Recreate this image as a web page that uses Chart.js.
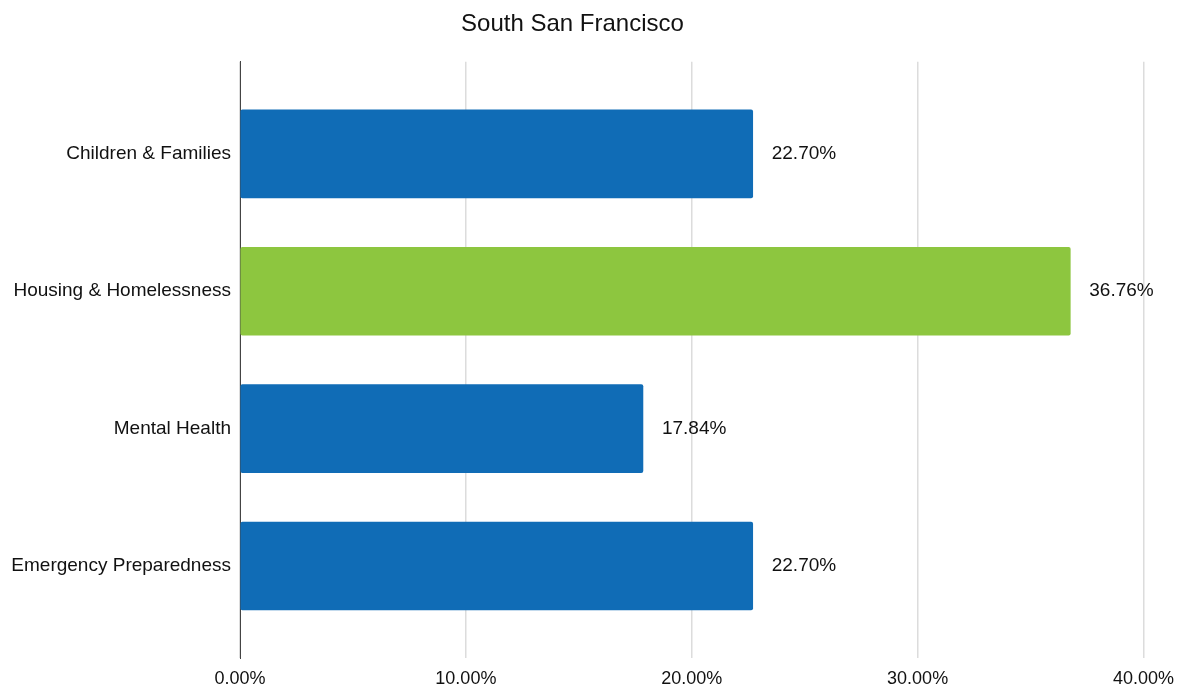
<!DOCTYPE html>
<html>
<head>
<meta charset="utf-8">
<script src="https://cdn.jsdelivr.net/npm/chart.js@4/dist/chart.umd.min.js"></script>
<style>
  html, body { margin: 0; padding: 0; background: #fff; }
  #wrap { width: 1184px; height: 689px; position: relative; }
</style>
</head>
<body>
<div id="wrap"><canvas id="c" width="1184" height="689"></canvas></div>
<script>
const title = 'South San Francisco';
const categories = ['Children & Families', 'Housing & Homelessness', 'Mental Health', 'Emergency Preparedness'];
const values = [22.70, 36.76, 17.84, 22.70];
const barColors = ['#106CB6', '#8DC63F', '#106CB6', '#106CB6'];
const xTicks = [0, 10, 20, 30, 40];

const FONT = "'Liberation Sans', Arial, Helvetica, sans-serif";

const valueLabels = {
  id: 'valueLabels',
  afterDatasetsDraw(chart) {
    const ctx = chart.ctx;
    const meta = chart.getDatasetMeta(0);
    ctx.save();
    ctx.font = '19px ' + FONT;
    ctx.fillStyle = '#111';
    ctx.textAlign = 'left';
    ctx.textBaseline = 'middle';
    meta.data.forEach((bar, i) => {
      ctx.fillText(values[i].toFixed(2) + '%', bar.x + 19, bar.y);
    });
    ctx.restore();
  }
};

new Chart(document.getElementById('c'), {
  type: 'bar',
  data: {
    datasets: [{
      data: values.map((v, i) => ({ x: v, y: i })),
      backgroundColor: barColors,
      borderRadius: 2,
      borderSkipped: false,
      barThickness: 88
    }]
  },
  options: {
    indexAxis: 'y',
    responsive: false,
    animation: false,
    events: [],
    layout: { padding: { left: 0, right: 39, top: 0, bottom: 0 } },
    plugins: {
      legend: { display: false },
      tooltip: { enabled: false },
      title: {
        display: true,
        text: title,
        color: '#111',
        font: { family: FONT, size: 24, weight: 'normal' },
        padding: { top: 10, bottom: 23 }
      }
    },
    scales: {
      x: {
        type: 'linear',
        min: 0,
        max: 40,
        afterBuildTicks(scale) { scale.ticks = xTicks.map(v => ({ value: v })); },
        afterFit(scale) { scale.height = 31; },
        ticks: {
          callback: v => v.toFixed(2) + '%',
          color: '#111',
          font: { family: FONT, size: 18 },
          padding: 10,
          maxRotation: 0
        },
        grid: { color: '#dcdcdc', lineWidth: 1.5, drawTicks: false },
        border: { display: false }
      },
      y: {
        type: 'linear',
        reverse: true,
        offset: false,
        min: -0.67,
        max: 3.67,
        afterBuildTicks(scale) { scale.ticks = categories.map((c, i) => ({ value: i })); },
        afterFit(scale) { scale.width = 240; },
        ticks: {
          callback: (v) => categories[v] !== undefined ? categories[v] : '',
          color: '#111',
          font: { family: FONT, size: 19 },
          padding: 9
        },
        grid: { display: false, drawTicks: false },
        border: { display: true, color: '#444', width: 1 }
      }
    }
  },
  plugins: [valueLabels]
});
</script>
</body>
</html>
